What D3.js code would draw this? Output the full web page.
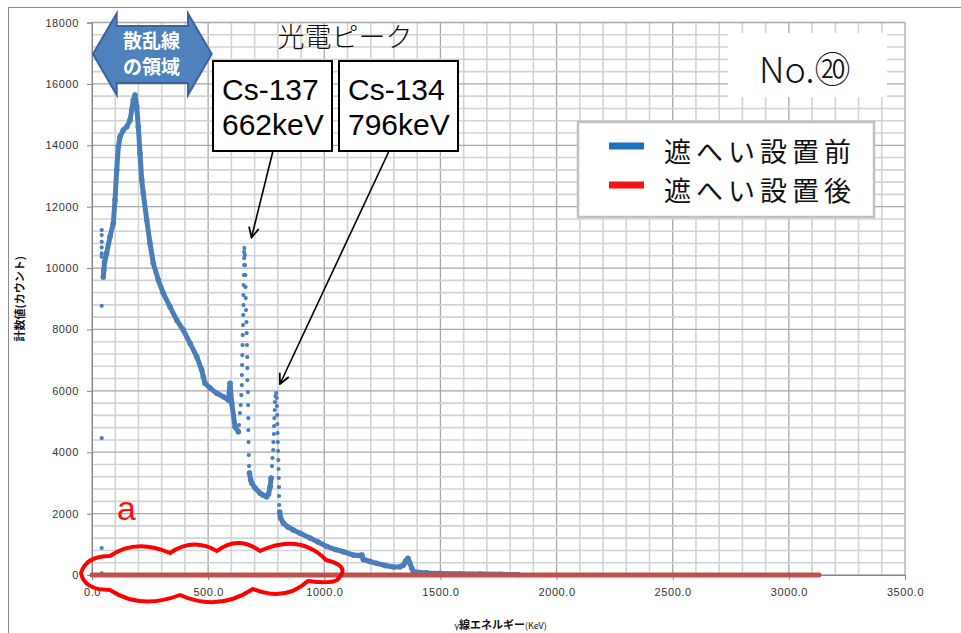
<!DOCTYPE html>
<html><head><meta charset="utf-8">
<script src="https://cdn.jsdelivr.net/npm/d3@7"></script>
<style>body{margin:0;background:#fff}svg{display:block}</style>
</head><body><svg id="c" width="961" height="633"></svg>
<script>
// ---------- data ----------
const xTickValues = [0, 500, 1000, 1500, 2000, 2500, 3000, 3500];
const yTickValues = [0, 2000, 4000, 6000, 8000, 10000, 12000, 14000, 16000, 18000];
const seriesNames = ["遮へい設置前", "遮へい設置後"];

// 遮へい設置前 : dense parts of the spectrum (keV, counts)
const bandAEnergy = [48.7, 51, 54, 63, 77.5, 91.7, 99.1, 106.4, 113.3, 120.6, 134.8, 149.4, 163.7, 171, 177.9, 185.2, 192.5, 199.4, 206.7, 214, 220.9, 235.6, 249.8, 264, 285.5, 307.1, 335.9, 364.8, 393.2, 422, 450.9, 472.4, 479.3, 486.6, 508.2, 537, 565.5, 587, 594.3, 601.6, 615.8, 630.1];
const bandACounts = [9707, 9935, 10195, 10479, 11020, 11456, 12215, 13192, 13951, 14277, 14495, 14603, 14821, 15146, 15472, 15635, 15254, 14603, 13736, 12866, 12433, 11563, 10804, 10153, 9609, 9176, 8739, 8306, 7980, 7547, 7111, 6678, 6459, 6244, 6091, 5918, 5808, 5700, 6244, 5593, 4830, 4668];
const bandBEnergy = [678, 683, 688, 702, 724, 736, 752, 760, 767, 771];
const bandBCounts = [3322, 3094, 2987, 2834, 2661, 2606, 2550, 2638, 2876, 3160];
const bandCEnergy = [808, 812, 824, 844, 867, 896, 939, 973, 1011, 1047, 1082, 1125, 1146, 1162, 1168, 1197, 1226, 1262, 1298, 1326, 1341, 1350, 1360, 1368, 1377, 1384, 1413, 1441, 1499, 1585, 1671, 1757, 1835];
const bandCCounts = [2052, 1857, 1684, 1564, 1466, 1358, 1205, 1075, 928, 831, 759, 651, 635, 651, 505, 440, 381, 309, 261, 267, 326, 456, 544, 391, 218, 107, 81, 68, 52, 39, 29, 23, 16];
// 遮へい設置前 : isolated channels (low-energy strays, Cs-137 and Cs-134 photopeaks)
const dotEnergy = [41.8, 41.8, 41.8, 41.8, 41.8, 41.8, 41.8, 41.8, 41.8, 42,
  633, 637, 640, 643, 645, 645, 646, 647, 648, 649, 650, 651, 652, 652, 653, 654, 655, 655, 655, 656,
  658, 659, 660, 661, 662, 663, 665, 666, 667, 668, 669, 669, 671, 672, 673, 673, 674, 675, 676,
  775, 777, 780, 781, 783, 784, 785, 787, 788, 790, 793,
  795, 796, 797, 798, 799, 800, 801, 802, 803, 804, 805, 805, 806];
const dotCounts = [11237, 11074, 10856, 10673, 10478, 10367, 8771, 4461, 880, 50,
  4886, 5277, 5537, 5863, 6189, 6514, 6840, 7166, 7492, 7817, 8143, 8469, 8795, 9120, 9446, 9772, 10098, 10326, 10521, 10651,
  10423, 10098, 9772, 9381, 9023, 8632, 8241, 7883, 7492, 7101, 6742, 6351, 5961, 5537, 5114, 4723, 4332, 3909, 3550,
  3550, 3811, 4072, 4332, 4593, 4853, 5114, 5375, 5635, 5830, 5928,
  5765, 5505, 5212, 4918, 4625, 4332, 4039, 3746, 3453, 3160, 2866, 2573, 2280];

// 遮へい設置後
const afterEnergy = [0, 500, 1000, 1500, 2000, 2500, 3000, 3130];
const afterCounts = [0, 0, 0, 0, 0, 0, 0, 0];

// ---------- chart ----------
const svg = d3.select("#c");
const W = 961, H = 633;
const mL = 92, mR = 905, mT = 22.5, mB = 575;
const x = d3.scaleLinear().domain([0, 3500]).range([mL, mR]);
const y = d3.scaleLinear().domain([0, 18000]).range([mB, mT]);
const JP = "'Noto Sans CJK JP','Noto Sans',sans-serif";
const LAT = "'Liberation Sans',Arial,sans-serif";

svg.append("rect").attr("width", W).attr("height", H).attr("fill", "#fff");
svg.append("rect").attr("x", 8.5).attr("y", 7.5).attr("width", 1000).attr("height", 700)
  .attr("fill", "none").attr("stroke", "#8c8c8c").attr("stroke-width", 1);

// grid
const g = svg.append("g");
d3.range(0, 3501, 100).forEach(v => {
  const major = v % 500 === 0;
  g.append("line").attr("x1", x(v)).attr("x2", x(v)).attr("y1", y(18000)).attr("y2", y(0))
    .attr("stroke", major ? "#a8a8a8" : "#d3d3d3").attr("stroke-width", major ? 1.3 : 1.6);
});
d3.range(0, 18001, 400).forEach(v => {
  const major = v % 2000 === 0;
  g.append("line").attr("x1", x(0)).attr("x2", x(3500)).attr("y1", y(v)).attr("y2", y(v))
    .attr("stroke", major ? "#a8a8a8" : "#d3d3d3").attr("stroke-width", major ? 1.3 : 1.6);
});

// axes
const xAxis = svg.append("g").attr("transform", `translate(0,${y(0)})`)
  .call(d3.axisBottom(x).tickValues(xTickValues).tickFormat(d3.format(".1f")).tickSize(5).tickPadding(8));
const yAxis = svg.append("g").attr("transform", `translate(${x(0)},0)`)
  .call(d3.axisLeft(y).tickValues(yTickValues).tickFormat(d => String(d)).tickSize(5).tickPadding(8));
[xAxis, yAxis].forEach(a => {
  a.select(".domain").attr("stroke", "#868686");
  a.selectAll(".tick line").attr("stroke", "#868686");
  a.selectAll("text").attr("font-family", LAT).attr("font-size", 11).attr("fill", "#333")
    .attr("letter-spacing", 0.6);
});

// axis titles
const xt = svg.append("text").attr("x", (mL + mR) / 2 + 2).attr("y", 629).attr("text-anchor", "middle")
  .attr("font-family", JP).attr("fill", "#111");
xt.append("tspan").attr("font-size", 9).text("γ");
xt.append("tspan").attr("font-size", 11).attr("font-weight", "bold").text("線エネルギー");
xt.append("tspan").attr("font-size", 9).text("(KeV)");
svg.append("text").attr("transform", `translate(24,${(mT + mB) / 2}) rotate(-90)`)
  .attr("text-anchor", "middle").attr("font-family", JP).attr("font-size", 11).attr("font-weight", "bold")
  .attr("fill", "#111").text("計数値(カウント)");

// series: before
const blue = "#4a7ebb";
const line = d3.line().x(d => x(d[0])).y(d => y(d[1]));
[[bandAEnergy, bandACounts], [bandBEnergy, bandBCounts], [bandCEnergy, bandCCounts]].forEach(([e, c]) => {
  const pts = e.map((v, i) => [v, c[i]]);
  svg.append("path").datum(pts).attr("d", line).attr("fill", "none").attr("stroke", blue)
    .attr("stroke-width", 5).attr("stroke-linejoin", "round").attr("stroke-linecap", "round");
  svg.append("g").selectAll("circle").data(pts).join("circle")
    .attr("cx", d => x(d[0])).attr("cy", d => y(d[1])).attr("r", 2.8).attr("fill", blue);
});
svg.append("g").selectAll("circle").data(dotEnergy.map((v, i) => [v, dotCounts[i]])).join("circle")
  .attr("cx", d => x(d[0])).attr("cy", d => y(d[1])).attr("r", 2.1).attr("fill", blue);

// series: after
svg.append("path").datum(afterEnergy.map((v, i) => [v, afterCounts[i]])).attr("d", line)
  .attr("fill", "none").attr("stroke", "#c0504d").attr("stroke-width", 5).attr("stroke-linecap", "round");

// ---------- annotations ----------
svg.append("path")
  .attr("d", "M93,54 L116.7,13.5 L116.7,26 L188,26 L188,13.5 L211.7,54 L188,95 L188,83 L116.7,83 L116.7,95 Z")
  .attr("fill", "#4f81bd").attr("stroke", "#3a62a0").attr("stroke-width", 2);
[["散乱線", 48], ["の領域", 74]].forEach(([t, yy]) => {
  svg.append("text").attr("x", 151.5).attr("y", yy).attr("text-anchor", "middle")
    .attr("font-family", JP).attr("font-size", 19).attr("font-weight", "bold").attr("fill", "#fff").text(t);
});

svg.append("text").attr("x", 345).attr("y", 46.5).attr("text-anchor", "middle")
  .attr("font-family", JP).attr("font-size", 27).attr("font-weight", 300).attr("fill", "#111").text("光電ピーク");

const boxes = [{x0: 213, lines: ["Cs-137", "662keV"]}, {x0: 339, lines: ["Cs-134", "796keV"]}];
boxes.forEach(b => {
  svg.append("rect").attr("x", b.x0).attr("y", 61).attr("width", 119).attr("height", 90)
    .attr("fill", "#fff").attr("stroke", "#000").attr("stroke-width", 2);
  b.lines.forEach((t, i) => {
    svg.append("text").attr("x", b.x0 + 9).attr("y", 100 + i * 35)
      .attr("font-family", LAT).attr("font-size", 30).attr("fill", "#000").text(t);
  });
});

const defs = svg.append("defs");
defs.append("marker").attr("id", "ah").attr("viewBox", "0 0 12 12").attr("refX", 11).attr("refY", 6)
  .attr("markerWidth", 12).attr("markerHeight", 12).attr("markerUnits", "userSpaceOnUse").attr("orient", "auto")
  .append("path").attr("d", "M1,1 L11,6 L1,11").attr("fill", "none").attr("stroke", "#000").attr("stroke-width", 1.8);
[[272.7, 152, 251.5, 237.5], [388.6, 152, 280, 384]].forEach(([x1, y1, x2, y2]) => {
  svg.append("line").attr("x1", x1).attr("y1", y1).attr("x2", x2).attr("y2", y2)
    .attr("stroke", "#000").attr("stroke-width", 1.6).attr("marker-end", "url(#ah)");
});

svg.append("rect").attr("x", 728).attr("y", 33).attr("width", 159).attr("height", 64).attr("fill", "#fff");
svg.append("text").attr("x", 759).attr("y", 83).attr("font-family", JP).attr("font-size", 36)
  .attr("font-weight", 300).attr("fill", "#111").text("No.⑳");

svg.append("rect").attr("x", 578).attr("y", 122).attr("width", 296).attr("height", 95)
  .attr("fill", "#fff").attr("stroke", "#c0c0c0").attr("stroke-width", 2.5);
const legColors = ["#1f6fc0", "#f01414"];
seriesNames.forEach((n, i) => {
  const cy = 146 + i * 39;
  svg.append("rect").attr("x", 609).attr("y", cy - 3.5).attr("width", 35).attr("height", 7).attr("fill", legColors[i]);
  svg.append("text").attr("x", 664).attr("y", cy + 16).attr("font-family", JP).attr("font-size", 27)
    .attr("letter-spacing", 5).attr("fill", "#111").text(n);
});

svg.append("text").attr("x", 117).attr("y", 520).attr("font-family", LAT).attr("font-size", 34)
  .attr("font-weight", 300).attr("fill", "#ff1010").text("a");
svg.append("path")
  .attr("d", "M81,573 Q86,556 110,556 Q136,538 170,553 Q193,537 217,551 Q238,535 260,551 Q300,533 326,560 Q352,566 337,580 Q330,584 308,581 Q285,602 253,589 Q218,612 180,595 Q140,610 110,590 Q84,590 81,573 Z")
  .attr("fill", "none").attr("stroke", "#ff0000").attr("stroke-width", 4).attr("stroke-linejoin", "round");
</script></body></html>
